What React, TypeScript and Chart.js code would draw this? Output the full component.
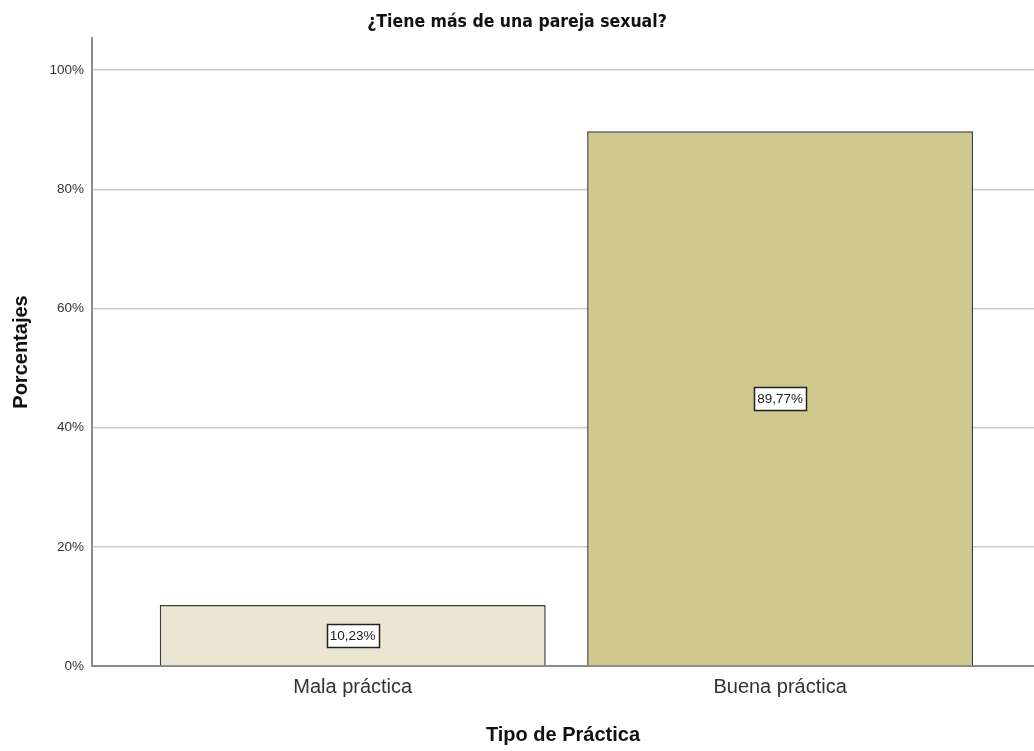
import React, { useEffect, useRef } from "react";
import { Chart, registerables } from "chart.js";

Chart.register(...registerables);

const chartTitle = "¿Tiene más de una pareja sexual?";
const categories = ["Mala práctica", "Buena práctica"];
const categoryPositions = [1, 2];
const percentages = [10.23, 89.77];
const barColors = ["#ebe5d1", "#d0c98f"];
const yTicks = [0, 20, 40, 60, 80, 100];
const xAxisTitle = "Tipo de Práctica";
const yAxisTitle = "Porcentajes";

const SANS = "'Liberation Sans', Arial, sans-serif";

const fmt = (v: number) => v.toFixed(2).replace(".", ",") + "%";

const labelPlugin = {
  id: "boxLabels",
  afterDatasetsDraw(chart: any) {
    const ctx = chart.ctx;
    const meta = chart.getDatasetMeta(0);
    ctx.save();
    ctx.font = `13.5px ${SANS}`;
    ctx.textAlign = "center";
    ctx.textBaseline = "middle";
    meta.data.forEach((bar: any, i: number) => {
      const text = fmt(percentages[i]);
      const cx = bar.x;
      const cy = (bar.y + bar.base) / 2;
      const w = Math.round(ctx.measureText(text).width + 6);
      const h = 23;
      const x0 = Math.round(cx - w / 2) + 0.5;
      const y0 = Math.round(cy - h / 2) + 0.5;
      ctx.fillStyle = "#ffffff";
      ctx.fillRect(x0, y0, w, h);
      ctx.strokeStyle = "#222222";
      ctx.lineWidth = 1.5;
      ctx.strokeRect(x0, y0, w, h);
      ctx.fillStyle = "#222222";
      ctx.fillText(text, cx, cy + 1);
    });
    ctx.restore();
  },
};

export default function App() {
  const ref = useRef<HTMLCanvasElement | null>(null);
  useEffect(() => {
    document.body.style.margin = "0";
    const canvas = ref.current;
    if (!canvas) return;
    const chart = new Chart(canvas, {
      type: "bar",
      data: {
        datasets: [
          {
            data: categoryPositions.map((x, i) => ({ x, y: percentages[i] })),
            backgroundColor: barColors,
            borderColor: "#3a3a3a",
            borderWidth: 1.5,
            categoryPercentage: 1,
            barPercentage: 0.903,
          } as any,
        ],
      },
      options: {
        animation: false,
        responsive: false,
        layout: { padding: 0 },
        plugins: {
          legend: { display: false },
          tooltip: { enabled: false },
          title: {
            display: true,
            text: chartTitle,
            color: "#111111",
            font: { family: "'DejaVu Sans Condensed', 'DejaVu Sans', sans-serif", size: 17.5, weight: "bold" },
            padding: { top: 12, bottom: 5 },
          },
        },
        scales: {
          x: {
            type: "linear",
            offset: false,
            min: 0.39,
            max: 2.594,
            afterBuildTicks: (s: any) => {
              s.ticks = categoryPositions.map((v) => ({ value: v }));
            },
            afterFit: (s: any) => {
              s.height = 85;
            },
            grid: { display: false, drawTicks: false, offset: false },
            border: { display: true, color: "#8c8c8c", width: 2 },
            ticks: {
              autoSkip: false,
              maxRotation: 0,
              padding: 9,
              color: "#333333",
              font: { family: SANS, size: 20 },
              callback: (v: any) => categories[categoryPositions.indexOf(Number(v))] ?? "",
            },
            title: {
              display: true,
              text: xAxisTitle,
              color: "#111111",
              font: { family: SANS, size: 20, weight: "bold" },
              padding: { top: 0, bottom: 4 },
            },
          },
          y: {
            type: "linear",
            min: 0,
            max: 105.4,
            afterBuildTicks: (s: any) => {
              s.ticks = yTicks.map((v) => ({ value: v }));
            },
            afterFit: (s: any) => {
              s.width = 92;
            },
            grid: { color: "#cccccc", lineWidth: 1.5, drawTicks: false },
            border: { display: true, color: "#8c8c8c", width: 2 },
            ticks: {
              padding: 8,
              color: "#333333",
              font: { family: SANS, size: 13.5 },
              callback: (v: any) => v + "%",
            },
            title: {
              display: true,
              text: yAxisTitle,
              color: "#111111",
              font: { family: SANS, size: 20, weight: "bold" },
              padding: { top: 9, bottom: 0 },
            },
          },
        },
      } as any,
      plugins: [labelPlugin],
    });
    return () => chart.destroy();
  }, []);
  return (
    <div style={{ width: 1034, height: 751 }}>
      <canvas ref={ref} width={1034} height={751} style={{ display: "block" }} />
    </div>
  );
}
